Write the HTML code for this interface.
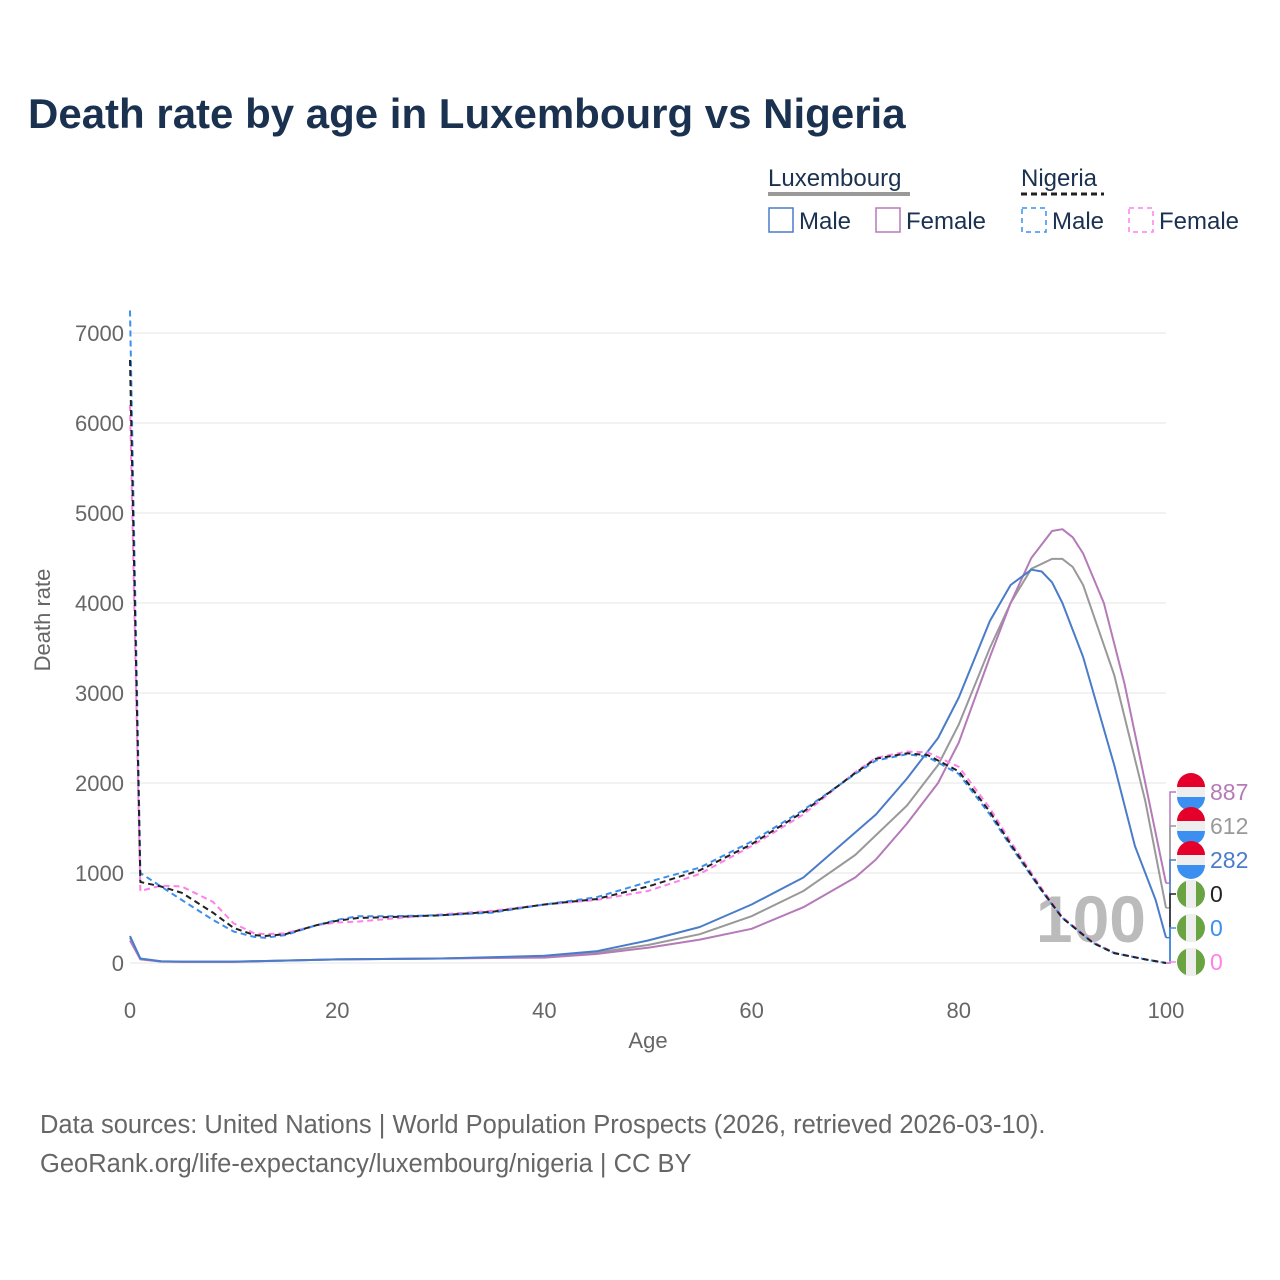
<!DOCTYPE html>
<html><head><meta charset="utf-8"><style>
body{margin:0;width:1280px;height:1280px;background:#fff;font-family:"Liberation Sans",sans-serif;overflow:hidden;position:relative}
.t{position:absolute;white-space:nowrap}
</style></head><body>
<div class="t" style="left:28px;top:90px;font-size:42px;font-weight:bold;color:#1a3150">Death rate by age in Luxembourg vs Nigeria</div>
<svg id="c" width="1280" height="1280" style="position:absolute;left:0;top:0"></svg>
<div class="t" style="left:40px;top:1106px;font-size:25.5px;color:#666;line-height:39px">Data sources: United Nations | World Population Prospects (2026, retrieved 2026-03-10).<br>GeoRank.org/life-expectancy/luxembourg/nigeria | CC BY</div>
<script>
const ages_lm=[0,1,3,5,10,20,30,40,45,50,55,60,65,70,72,75,78,80,83,85,87,88,89,90,92,95,97,99,100];
const lux_male=[300,50,20,15,15,40,50,80,130,250,400,650,950,1450,1650,2050,2500,2950,3800,4200,4370,4350,4230,4000,3400,2200,1300,700,282];
const ages_lt=[0,1,3,5,10,20,30,40,45,50,55,60,65,70,75,78,80,83,85,87,89,90,91,92,95,98,100];
const lux_total=[280,45,18,14,14,40,50,70,115,200,320,520,800,1200,1750,2200,2650,3500,4000,4380,4490,4490,4400,4200,3200,1800,612];
const ages_lf=[0,1,3,5,10,20,30,40,45,50,55,60,65,70,72,75,78,80,83,85,87,89,90,91,92,94,96,98,100];
const lux_female=[250,40,15,12,12,40,50,60,100,170,260,380,620,950,1150,1550,2000,2450,3400,4000,4500,4800,4820,4730,4550,4000,3100,2000,887];
const ages_n=[0,1,3,5,8,10,12,13,15,18,20,22,25,30,35,40,45,50,55,60,65,70,72,75,77,80,83,85,88,90,93,95,98,100];
const ng_male=[7250,1000,850,700,480,350,290,280,310,420,480,520,520,530,560,650,730,900,1060,1350,1700,2100,2250,2320,2290,2100,1650,1300,800,500,220,110,40,0];
const ng_total=[6700,900,850,780,560,390,310,300,320,420,470,500,510,530,570,650,710,850,1030,1320,1680,2110,2270,2330,2310,2130,1680,1320,810,500,220,110,40,0];
const ng_female=[6200,800,860,850,680,440,330,320,330,420,450,460,490,540,580,650,700,800,990,1300,1650,2120,2280,2350,2340,2180,1720,1350,830,510,230,115,40,0];
const yticks=[0,1000,2000,3000,4000,5000,6000,7000];
const xticks=[0,20,40,60,80,100];
const X=a=>130+a*10.36, Y=v=>963-v*0.09;
const s=document.getElementById('c'), NS='http://www.w3.org/2000/svg';
function el(t,a,txt){const e=document.createElementNS(NS,t);for(const k in a)e.setAttribute(k,a[k]);if(txt!=null)e.textContent=txt;s.appendChild(e);return e;}
yticks.forEach(v=>{
 const g=el('line',{x1:130,x2:1166,y1:Y(v),y2:Y(v),stroke:'#e6e6e6','stroke-width':1});
 
 
 const t=el('text',{x:124,y:Y(v)+8,'text-anchor':'end','font-size':22,fill:'#666'},v);
 
 
});
xticks.forEach(v=>{
 const t=el('text',{x:X(v),y:1018,'text-anchor':'middle','font-size':22,fill:'#666'},v);
 
 
});
let t=el('text',{x:648,y:1048,'text-anchor':'middle','font-size':22,fill:'#666'},'Age');


t=el('text',{x:0,y:0,transform:'translate(50,620) rotate(-90)','text-anchor':'middle','font-size':22,fill:'#666'},'Death rate');


t=el('text',{x:1146,y:942,'text-anchor':'end','font-size':66,'font-weight':'bold',fill:'#bbb'},'100');


function line(ax,vals,col,dash,name){
 const p=el('polyline',{points:ax.map((a,i)=>X(a)+','+Y(vals[i])).join(' '),fill:'none',stroke:col,'stroke-width':2,'stroke-dasharray':dash||'none','stroke-linejoin':'round'});
 
 
}
line(ages_lt,lux_total,'#999','', 'line-luxembourg-total');
line(ages_lf,lux_female,'#b57ab8','', 'line-luxembourg-female');
line(ages_lm,lux_male,'#4a7cc9','', 'line-luxembourg-male');
line(ages_n,ng_female,'#ff80e8','6,4','line-nigeria-female');
line(ages_n,ng_male,'#3a8ff0','6,4','line-nigeria-male');
line(ages_n,ng_total,'#222','6,4','line-nigeria-total');
const labs=[[lux_female[lux_female.length-1],'#b57ab8','lux',792],[lux_total[lux_total.length-1],'#999','lux',826],[lux_male[lux_male.length-1],'#4a7cc9','lux',860],[ng_total[ng_total.length-1],'#222','ng',894],[ng_male[ng_male.length-1],'#3a8ff0','ng',928],[ng_female[ng_female.length-1],'#ff80e8','ng',962]];
labs.forEach(([v,c,f,y])=>{
 const l=el('polyline',{points:`1166,${Y(v)} 1170,${Y(v)} 1170,${y} 1176,${y}`,fill:'none',stroke:c,'stroke-width':1.5});
 
 
 const cx=1191;
 if(f==='lux'){
  el('path',{d:`M${cx-14},${y-5} A14,14 0 0 1 ${cx+14},${y-5} Z`,fill:'#e4002b'});
  el('rect',{x:cx-14,y:y-5,width:28,height:10,fill:'#eee'});
  el('path',{d:`M${cx-14},${y+5} A14,14 0 0 0 ${cx+14},${y+5} Z`,fill:'#3a8ff0'});
 }else{
  el('circle',{cx:cx,cy:y,r:14,fill:'#6aa341'});
  el('rect',{x:cx-5,y:y-14,width:10,height:28,fill:'#eee'});
 }
 const tt=el('text',{x:1210,y:y+8,'font-size':23,fill:c},Math.round(v));
 
 
});
function lg(x,y,txt,col,dash,name){
 const r=el('rect',{x:x,y:y-12,width:24,height:24,fill:'none',stroke:col,'stroke-width':1.5,'stroke-dasharray':dash||'none'});
 
 
 el('text',{x:x+30,y:y+9,'font-size':24,fill:'#1a3150'},txt);
}
t=el('text',{x:768,y:186,'font-size':24,fill:'#1a3150'},'Luxembourg');


el('line',{x1:768,x2:910,y1:194,y2:194,stroke:'#999','stroke-width':4});
t=el('text',{x:1021,y:186,'font-size':24,fill:'#1a3150'},'Nigeria');


el('line',{x1:1021,x2:1104,y1:194,y2:194,stroke:'#222','stroke-width':3,'stroke-dasharray':'6,4'});
lg(769,220,'Male','#4a7cc9','','legend-lux-male');
lg(876,220,'Female','#b57ab8','','legend-lux-female');
lg(1022,220,'Male','#3a8ff0','5,4','legend-ng-male');
lg(1129,220,'Female','#ff80e8','5,4','legend-ng-female');
</script>
</body></html>
